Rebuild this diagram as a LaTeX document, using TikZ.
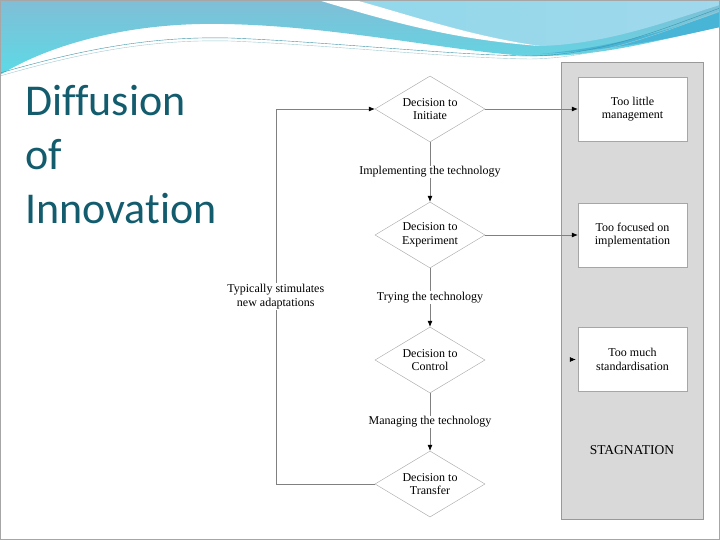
\documentclass[tikz,border=0pt]{standalone}
\usepackage{fontspec}
\setmainfont{Liberation Serif}
\newfontfamily\titlefont[Ligatures=NoCommon,RawFeature={-liga}]{Carlito}
\usetikzlibrary{shapes.geometric,arrows.meta}
\definecolor{titleteal}{RGB}{18,92,110}
\definecolor{waveblue}{RGB}{128,190,214}
\definecolor{wavecyan}{RGB}{92,218,230}
\definecolor{wavelight}{RGB}{160,216,236}
\definecolor{waveband}{RGB}{72,180,214}
\definecolor{waveline}{RGB}{60,150,170}
\definecolor{panelgray}{RGB}{217,217,217}
\begin{document}
\begin{tikzpicture}[x=1pt,y=-1pt,
  decision/.style={diamond,draw=gray!70,thin,aspect=1.7,inner sep=0pt,minimum width=110pt,minimum height=66pt,align=center,font=\fontsize{12}{13.5}\selectfont},
  outcome/.style={rectangle,draw=gray!70,fill=white,minimum width=109pt,minimum height=64pt,align=center,font=\fontsize{12}{13.5}\selectfont},
  stage/.style={fill=white,inner sep=1pt,align=center,font=\fontsize{12}{13.5}\selectfont},
  flow/.style={draw=gray,line width=0.6pt,-{Latex[length=6pt,width=5pt,color=black]}},
  heading/.style={anchor=base west,inner sep=0pt,text=titleteal,font=\titlefont\fontsize{44}{54}\selectfont}]
 \useasboundingbox (0,0) rectangle (720,540);
 \fill[white] (0,0) rectangle (720,540);
 \shade[top color=waveblue,bottom color=wavecyan] (0,0)--(720,0)--(720,27) .. controls (650,42) and (600,57) .. (530,56) .. controls (450,52) and (320,22) .. (200,24) .. controls (110,26) and (40,50) .. (0,75)--cycle;
 \shade[left color=wavelight!80!wavecyan,right color=wavelight] (355,0) .. controls (410,15) and (470,36) .. (540,46) .. controls (610,44) and (670,20) .. (720,5)--(720,0)--cycle;
 \fill[white] (318,0) .. controls (400,25) and (460,40) .. (540,46) .. controls (470,36) and (410,15) .. (355,0)--cycle;
 \fill[waveband] (540,54) .. controls (620,50) and (680,36) .. (720,27)--(720,12) .. controls (670,30) and (610,48) .. (540,54);
 \draw[waveline,thin] (0,73) .. controls (80,50) and (150,36) .. (230,38) .. controls (330,42) and (450,55) .. (530,56) .. controls (600,55) and (660,30) .. (720,8);
 \draw[waveline!50,thin] (0,76) .. controls (80,53) and (150,39) .. (230,41) .. controls (330,45) and (450,58) .. (530,59) .. controls (600,58) and (660,33) .. (720,11);
 \node[heading] (title1) at (25,116) {Diffusion};
 \node[heading] (title2) at (25,170) {of};
 \node[heading] (title3) at (25,224) {Innovation};
 \node[draw=gray!80,fill=panelgray,minimum width=142pt,minimum height=457pt,inner sep=0pt] (panel) at (632,290.5) {};
 \node[decision] (d1) at (430,109) {Decision to\\Initiate};
 \node[decision] (d2) at (430,235) {Decision to\\Experiment};
 \node[decision] (d3) at (430,360) {Decision to\\Control};
 \node[decision] (d4) at (430,484) {Decision to\\Transfer};
 \node[outcome] (box1) at (632.5,109) {Too little\\management};
 \node[outcome] (box2) at (632.5,235) {Too focused on\\implementation};
 \node[outcome] (box3) at (632.5,359.5) {Too much\\standardisation};
 \node[font=\fontsize{13.5}{15}\selectfont] (stag) at (632,450) {STAGNATION};
 \coordinate (stub) at (566,359.5);
 \draw[flow] (d1) -- node[stage] {Implementing the technology} (d2);
 \draw[flow] (d2) -- node[stage] {Trying the technology} (d3);
 \draw[flow] (d3) -- node[stage] {Managing the technology} (d4);
 \draw[flow] (d4.west) -- ++(-99,0) |- node[stage,pos=0.25] {Typically stimulates\\new adaptations} (d1.west);
 \draw[flow] (d1.east) -- (box1.west);
 \draw[flow] (d2.east) -- (box2.west);
 \draw[flow,draw=panelgray,shorten >=2pt] (stub) -- (box3.west);
 \draw[gray!70] (0.5,0.5) rectangle (719.5,539.5);
\end{tikzpicture}
\end{document}
